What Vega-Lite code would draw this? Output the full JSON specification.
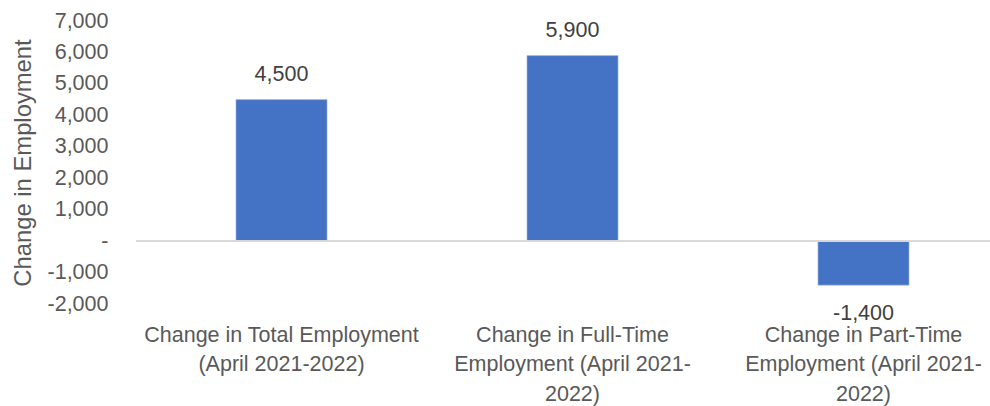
{
  "$schema": "https://vega.github.io/schema/vega-lite/v6.json",
  "autosize": "none",
  "padding": {"left": 136, "top": 21, "right": 0, "bottom": 102},
  "width": 854,
  "height": 283,
  "background": "white",
  "config": {
    "view": {"stroke": null},
    "font": "Liberation Sans",
    "locale": {"number": {"decimal": ".", "thousands": ",", "grouping": [3], "currency": ["$", ""], "minus": "-"}},
    "axisY": {
      "titleFontSize": 23.8, "titleFontWeight": "normal", "titleColor": "#595959", "titlePadding": 12,
      "grid": false, "domain": false, "ticks": false, "labelPadding": 28, "labelOverlap": false,
      "labelFontSize": 21.5, "labelColor": "#595959"
    }
  },
  "data": {"values": [
    {"category": "Change in Total Employment (April 2021-2022)", "change": 4500},
    {"category": "Change in Full-Time Employment (April 2021-2022)", "change": 5900},
    {"category": "Change in Part-Time Employment (April 2021-2022)", "change": -1400}
  ]},
  "encoding": {
    "x": {
      "field": "category", "type": "nominal", "sort": null,
      "scale": {"range": [0, 873], "paddingInner": 0.687, "paddingOuter": 0.3435},
      "axis": {
        "title": null, "domain": false, "ticks": false, "labelAngle": 0,
        "labelFontSize": 21.5, "labelColor": "#595959", "labelBaseline": "top",
        "labelPadding": 20, "labelLineHeight": 29.5, "labelLimit": 0, "labelOverlap": false,
        "labelExpr": "datum.value == 'Change in Total Employment (April 2021-2022)' ? ['Change in Total Employment', '(April 2021-2022)'] : datum.value == 'Change in Full-Time Employment (April 2021-2022)' ? ['Change in Full-Time', 'Employment (April 2021-', '2022)'] : ['Change in Part-Time', 'Employment (April 2021-', '2022)']"
      }
    },
    "y": {
      "field": "change", "type": "quantitative",
      "scale": {"domain": [-2000, 7000], "nice": false},
      "axis": {
        "title": "Change in Employment",
        "values": [-2000, -1000, 0, 1000, 2000, 3000, 4000, 5000, 6000, 7000],
        "labelExpr": "datum.value == 0 ? '-\u2002' : format(datum.value, ',')"
      }
    }
  },
  "layer": [
    {
      "mark": {"type": "bar", "color": "#4472C4", "stroke": "#a9bde3", "strokeWidth": 0.6}
    },
    {
      "mark": {"type": "rule", "color": "#d9d9d9", "strokeWidth": 1.5},
      "encoding": {
        "x": null,
        "y": {
          "datum": 0, "type": "quantitative",
          "axis": {
            "title": "Change in Employment",
            "values": [-2000, -1000, 0, 1000, 2000, 3000, 4000, 5000, 6000, 7000],
            "labelExpr": "datum.value == 0 ? '-\u2002' : format(datum.value, ',')"
          }
        }
      }
    },
    {
      "transform": [{"filter": "datum.change >= 0"}],
      "mark": {"type": "text", "fontSize": 21.5, "color": "#404040", "baseline": "alphabetic", "dy": -19},
      "encoding": {
        "text": {"field": "change", "type": "quantitative", "format": ","}
      }
    },
    {
      "transform": [{"filter": "datum.change < 0"}],
      "mark": {"type": "text", "fontSize": 21.5, "color": "#404040", "baseline": "alphabetic", "dy": 35},
      "encoding": {
        "text": {"field": "change", "type": "quantitative", "format": ","}
      }
    }
  ]
}
